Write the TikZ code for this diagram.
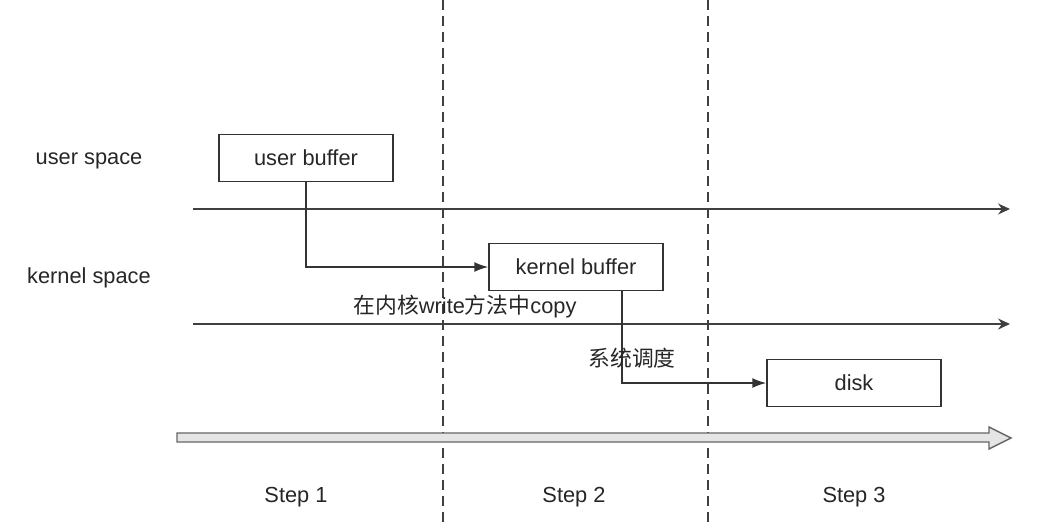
\documentclass[tikz,border=0pt]{standalone}
\usepackage{fontspec}
\setmainfont{Liberation Sans}
\newfontfamily\cjk{Noto Sans CJK SC}
\usetikzlibrary{arrows.meta}
\usetikzlibrary{calc}
\usepackage{xcolor}

\begin{document}
\begin{tikzpicture}[x=.5pt,y=-.5pt,line width=.75pt,
  font=\fontsize{10.9}{13}\selectfont,
  buf/.style={draw=black!80, minimum width=87pt, minimum height=23.5pt, inner sep=0, text=black!85},
  lbl/.style={text=black!85, inner sep=1pt},
  axis/.style={draw=black!75, -{Stealth[length=6pt,width=5.5pt,inset=2pt]}},
  feed/.style={draw=black!80, -{Latex[length=7pt,width=5pt]}}]
\useasboundingbox (0,0) rectangle (1063,526);
\foreach \x [count=\i] in {443,708} {
\coordinate (d\i t) at (\x,0);
\coordinate (d\i b) at (\x,526);
\draw[black!75, dash pattern=on 5pt off 3pt] (d\i t)--(d\i b);
}
\coordinate (u0) at (193,209); \coordinate (u1) at (1010,209);
\coordinate (k0) at (193,324); \coordinate (k1) at (1010,324);
\draw[axis] (u0)--(u1);
\draw[axis] (k0)--(k1);
\draw[black!60, fill=black!10, line width=.7pt] (177,433)--(989,433)--(989,427)--(1011,438)--(989,449)--(989,442)--(177,442)--cycle;
\node[lbl] (us) at (89,161) {user space};
\node[lbl] (ks) at (89,278) {kernel space};
\node[buf] (ub) at (306,158) {user buffer};
\node[buf] (kb) at (576,267) {kernel buffer};
\node[buf] (dk) at (854,383) {disk};
\draw[feed] (ub.south) |- (kb.west);
\draw[feed] ([xshift=23pt]kb.south) |- (dk.west);
\node[lbl] (wc) at (465,307) {{\cjk 在内核}write{\cjk 方法中}copy};
\node[lbl] (sd) at (632,358) {\cjk 系统调度};
\foreach \x/\n in {296/1,574/2,854/3}
\node[lbl] (s\n) at (\x,497) {Step \n};
\end{tikzpicture}
\end{document}
